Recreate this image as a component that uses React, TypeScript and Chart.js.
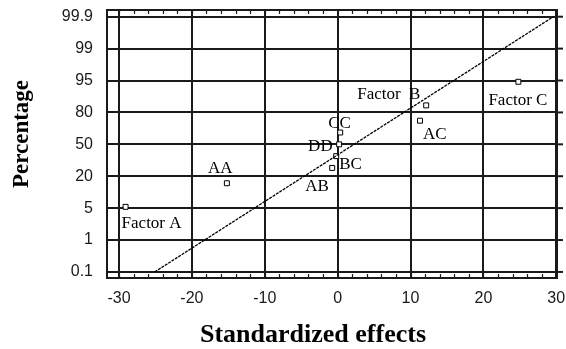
import React, { useEffect, useRef } from "react";
import { Chart, registerables } from "chart.js";

Chart.register(...registerables);

// ---- data ----
const yTickLabels = ["0.1", "1", "5", "20", "50", "80", "95", "99", "99.9"];
const yTickPercents = [0.1, 1, 5, 20, 50, 80, 95, 99, 99.9];
const xTicks = [-30, -20, -10, 0, 10, 20, 30];
const effectNames = ["Factor A", "AA", "AB", "BC", "DD", "CC", "AC", "Factor  B", "Factor C"];
const effectValues = [-29.1, -15.2, -0.75, -0.2, 0.2, 0.35, 11.3, 12.15, 24.8];
const effectPercents = [5.6, 16.7, 27.8, 38.9, 50, 61.1, 72.2, 83.3, 94.4];
const refLineX = [-25.1, 29.6];
const refLinePercents = [0.1, 99.9];

// label placement (text left / baseline relative to marker), pixels
const labelOffsets: [number, number][] = [
  [-4, 21], [-19, -10], [-27, 23], [3, 13], [-31, 7], [-12, -5], [3, 18], [-69, -6], [-30, 23],
];

// map a percentage onto the equally spaced probability tick index
function pctToIndex(p: number): number {
  const t = yTickPercents;
  if (p <= t[0]) return 0;
  for (let i = 1; i < t.length; i++) {
    if (p <= t[i]) return i - 1 + (p - t[i - 1]) / (t[i] - t[i - 1]);
  }
  return t.length - 1;
}

const INK = "#1a1a1a";

const decorPlugin = {
  id: "decor",
  beforeDatasetsDraw(chart: any) {
    const { ctx, chartArea } = chart;
    const xs = chart.scales.x;
    const ys = chart.scales.y;
    ctx.save();
    ctx.strokeStyle = INK;
    ctx.lineWidth = 2;
    ctx.strokeRect(chartArea.left, chartArea.top, chartArea.right - chartArea.left, chartArea.bottom - chartArea.top);
    for (let i = 0; i < yTickLabels.length; i++) {
      const y = ys.getPixelForValue(i);
      ctx.beginPath();
      ctx.moveTo(chartArea.right, y);
      ctx.lineTo(chartArea.right + 6, y);
      ctx.stroke();
    }
    ctx.lineWidth = 1.2;
    for (let v = -30; v <= 30; v += 2) {
      const x = Math.round(xs.getPixelForValue(v)) + 0.5;
      ctx.beginPath();
      ctx.moveTo(x, chartArea.top);
      ctx.lineTo(x, chartArea.top + 4);
      ctx.moveTo(x, chartArea.bottom);
      ctx.lineTo(x, chartArea.bottom - 4);
      ctx.stroke();
    }
    ctx.restore();
  },
  afterDatasetsDraw(chart: any) {
    const { ctx } = chart;
    const xs = chart.scales.x;
    const ys = chart.scales.y;
    ctx.save();
    ctx.fillStyle = "#000";
    ctx.font = "17px 'Liberation Serif', 'Times New Roman', serif";
    ctx.textAlign = "left";
    ctx.textBaseline = "alphabetic";
    for (let i = 0; i < effectNames.length; i++) {
      const px = xs.getPixelForValue(effectValues[i]);
      const py = ys.getPixelForValue(pctToIndex(effectPercents[i]));
      ctx.fillText(effectNames[i], px + labelOffsets[i][0], py + labelOffsets[i][1]);
    }
    ctx.font = "bold 26px 'Liberation Serif', 'Times New Roman', serif";
    ctx.textAlign = "center";
    ctx.fillText("Standardized effects", 313, 342);
    ctx.save();
    ctx.translate(28, 134);
    ctx.rotate(-Math.PI / 2);
    ctx.font = "bold 23px 'Liberation Serif', 'Times New Roman', serif";
    ctx.fillText("Percentage", 0, 0);
    ctx.restore();
    ctx.restore();
  },
};

export default function App() {
  const ref = useRef<HTMLCanvasElement | null>(null);
  useEffect(() => {
    if (!ref.current) return;
    const chart = new Chart(ref.current, {
      type: "scatter",
      data: {
        datasets: [
          {
            type: "line",
            data: refLineX.map((x, i) => ({ x, y: pctToIndex(refLinePercents[i]) })),
            borderColor: "#000",
            borderWidth: 1.3,
            borderDash: [3, 1],
            pointRadius: 0,
            fill: false,
            order: 1,
          } as any,
          {
            type: "scatter",
            data: effectValues.map((x, i) => ({ x, y: pctToIndex(effectPercents[i]) })),
            pointStyle: "rect",
            pointRadius: 3.5,
            borderWidth: 1,
            borderColor: "#000",
            backgroundColor: "#fff",
            order: 2,
          } as any,
        ],
      },
      options: {
        responsive: false,
        animation: false,
        layout: { padding: { left: 0, right: 9, top: 10, bottom: 0 } },
        plugins: { legend: { display: false }, tooltip: { enabled: false } },
        scales: {
          x: {
            type: "linear",
            min: -31.65,
            max: 30.1,
            afterBuildTicks: (s: any) => {
              s.ticks = xTicks.map((v) => ({ value: v }));
            },
            afterFit: (s: any) => {
              s.height = 71;
              s.paddingLeft = 0;
              s.paddingRight = 0;
            },
            grid: { color: INK, lineWidth: 2, drawTicks: false },
            border: { display: false },
            ticks: {
              autoSkip: false,
              maxRotation: 0,
              padding: 11,
              color: "#1a1a1a",
              font: { family: "'Liberation Sans', Arial, sans-serif", size: 16 },
            },
          },
          y: {
            type: "linear",
            min: -0.19,
            max: 8.21,
            afterBuildTicks: (s: any) => {
              s.ticks = yTickLabels.map((_, i) => ({ value: i }));
            },
            afterFit: (s: any) => {
              s.width = 107;
              s.paddingTop = 0;
              s.paddingBottom = 0;
            },
            grid: { color: INK, lineWidth: 2, drawTicks: false },
            border: { display: false },
            ticks: {
              autoSkip: false,
              padding: 14,
              color: "#1a1a1a",
              font: { family: "'Liberation Sans', Arial, sans-serif", size: 16 },
              callback: (v: any) => yTickLabels[Math.round(Number(v))] ?? "",
            },
          },
        },
      },
      plugins: [decorPlugin],
    });
    return () => chart.destroy();
  }, []);
  return (
    <div style={{ position: "absolute", left: 0, top: 0, width: 566, height: 349, background: "#fff" }}>
      <canvas ref={ref} width={566} height={349} />
    </div>
  );
}
